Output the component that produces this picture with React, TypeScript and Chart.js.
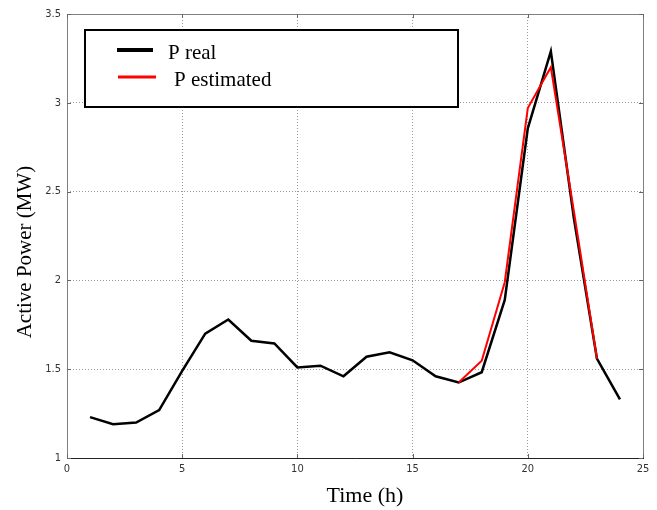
import React, { useEffect, useRef } from "react";
import { Chart, registerables } from "chart.js";

Chart.register(...registerables);

const hoursReal = [1, 2, 3, 4, 5, 6, 7, 8, 9, 10, 11, 12, 13, 14, 15, 16, 17, 18, 19, 20, 21, 22, 23, 24];
const pReal = [1.23, 1.19, 1.2, 1.27, 1.49, 1.7, 1.78, 1.66, 1.645, 1.51, 1.52, 1.46, 1.57, 1.595, 1.55, 1.46, 1.425, 1.483, 1.89, 2.856, 3.29, 2.35, 1.56, 1.33];
const hoursEst = [17, 18, 19, 20, 21, 22, 23];
const pEst = [1.425, 1.548, 1.99, 2.97, 3.2, 2.39, 1.56];

const xTicks = [0, 5, 10, 15, 20, 25];
const yTicks = [1, 1.5, 2, 2.5, 3, 3.5];

const legendLabels = ["P real", "P estimated"];
const xTitle = "Time (h)";
const yTitle = "Active Power (MW)";

const tickFont = { family: "'Liberation Sans Narrow', 'DejaVu Sans Condensed', 'Arial Narrow', sans-serif", size: 11 };

export default function App() {
  const ref = useRef<HTMLCanvasElement | null>(null);

  useEffect(() => {
    document.body.style.margin = "0";
    const canvas = ref.current;
    if (!canvas) return;

    const framePlugin = {
      id: "framePlugin",
      afterDraw(chart: any) {
        const { ctx, chartArea } = chart;
        const { left, right, top, bottom } = chartArea;
        const xs = chart.scales.x;
        const ys = chart.scales.y;
        ctx.save();
        ctx.lineWidth = 1;
        ctx.strokeStyle = "#808080";
        ctx.beginPath();
        ctx.moveTo(left + 0.5, bottom);
        ctx.lineTo(left + 0.5, top + 0.5);
        ctx.lineTo(right + 0.5, top + 0.5);
        ctx.lineTo(right + 0.5, bottom);
        ctx.stroke();
        ctx.strokeStyle = "#222";
        ctx.beginPath();
        ctx.moveTo(left, bottom + 0.5);
        ctx.lineTo(right + 1, bottom + 0.5);
        ctx.stroke();
        ctx.strokeStyle = "#666";
        const tl = 4;
        xTicks.forEach((v) => {
          const px = Math.round(xs.getPixelForValue(v)) + 0.5;
          ctx.beginPath();
          ctx.moveTo(px, bottom);
          ctx.lineTo(px, bottom - tl);
          ctx.moveTo(px, top);
          ctx.lineTo(px, top + tl);
          ctx.stroke();
        });
        yTicks.forEach((v) => {
          const py = Math.round(ys.getPixelForValue(v)) + 0.5;
          ctx.beginPath();
          ctx.moveTo(left, py);
          ctx.lineTo(left + tl, py);
          ctx.moveTo(right, py);
          ctx.lineTo(right - tl, py);
          ctx.stroke();
        });
        const lx = 85, ly = 30, lw = 373, lh = 77;
        ctx.fillStyle = "#fff";
        ctx.fillRect(lx, ly, lw, lh);
        ctx.lineWidth = 2;
        ctx.strokeStyle = "#000";
        ctx.strokeRect(lx, ly, lw, lh);
        ctx.lineWidth = 4;
        ctx.beginPath();
        ctx.moveTo(117, 50);
        ctx.lineTo(153, 50);
        ctx.stroke();
        ctx.strokeStyle = "#ff0000";
        ctx.lineWidth = 3;
        ctx.beginPath();
        ctx.moveTo(118, 77);
        ctx.lineTo(156, 77);
        ctx.stroke();
        ctx.fillStyle = "#000";
        ctx.font = "21px 'Liberation Serif', 'Times New Roman', serif";
        ctx.textBaseline = "middle";
        ctx.textAlign = "left";
        ctx.fillText(legendLabels[0], 168, 53);
        ctx.fillText(legendLabels[1], 174, 80);
        ctx.font = "22px 'Liberation Serif', 'Times New Roman', serif";
        ctx.textAlign = "center";
        ctx.fillText(xTitle, 365, 496);
        ctx.save();
        ctx.translate(25, 252);
        ctx.rotate(-Math.PI / 2);
        ctx.font = "21px 'Liberation Serif', 'Times New Roman', serif";
        ctx.fillText(yTitle, 0, 0);
        ctx.restore();
        ctx.restore();
      },
    };

    const chart = new Chart(canvas, {
      type: "line",
      data: {
        datasets: [
          {
            label: legendLabels[0],
            data: hoursReal.map((h, i) => ({ x: h, y: pReal[i] })),
            borderColor: "#000",
            borderWidth: 2.5,
            pointRadius: 0,
            tension: 0,
            fill: false,
            order: 2,
          },
          {
            label: legendLabels[1],
            data: hoursEst.map((h, i) => ({ x: h, y: pEst[i] })),
            borderColor: "#ff0000",
            borderWidth: 2,
            pointRadius: 0,
            tension: 0,
            fill: false,
            order: 1,
          },
        ],
      },
      options: {
        responsive: false,
        animation: false,
        layout: { padding: { top: 14, right: 14, left: 0, bottom: 0 } },
        plugins: { legend: { display: false }, tooltip: { enabled: false } },
        scales: {
          x: {
            type: "linear",
            min: 0,
            max: 25,
            afterFit: (s: any) => { s.height = 52; },
            afterBuildTicks: (s: any) => { s.ticks = xTicks.map((v) => ({ value: v })); },
            ticks: { font: tickFont, color: "#333", padding: 5, maxRotation: 0, callback: (v: any) => String(v) },
            grid: { color: "#9a9a9a", lineWidth: 1, drawTicks: false },
            border: { display: false, dash: [1, 2] },
          },
          y: {
            type: "linear",
            min: 1,
            max: 3.5,
            afterFit: (s: any) => { s.width = 67; },
            afterBuildTicks: (s: any) => { s.ticks = yTicks.map((v) => ({ value: v })); },
            ticks: { font: tickFont, color: "#333", padding: 6, callback: (v: any) => String(v) },
            grid: { color: "#9a9a9a", lineWidth: 1, drawTicks: false },
            border: { display: false, dash: [1, 2] },
          },
        },
      },
      plugins: [framePlugin],
    });
    return () => chart.destroy();
  }, []);

  return (
    <div style={{ width: 657, height: 510, background: "#fff" }}>
      <canvas ref={ref} width={657} height={510} />
    </div>
  );
}
